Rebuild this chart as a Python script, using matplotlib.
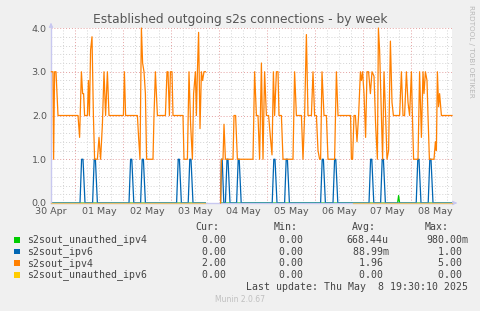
import numpy as np
import matplotlib
matplotlib.use("Agg")
import matplotlib.pyplot as plt

# --- data (x in hours since 30 Apr 00:00)
gap = np.nan

ipv4_t = [12.2, 13.0, 13.3, 13.8, 14.5, 15.5, 25.5, 26.3, 27.2, 27.8, 28.3, 28.8, 30.2, 30.7, 31.2,
          31.8, 32.5, 33.2, 33.8, 35.2, 36.0, 36.8, 37.7, 38.5, 39.3, 40.2, 41.0, 48.2, 48.7, 49.3,
          55.2, 55.8, 56.5, 57.2, 57.8, 58.5, 59.2, 59.8, 63.0, 63.5, 64.2, 65.2, 69.2, 70.0, 70.5,
          71.2, 71.7, 72.5, 73.0, 78.0, 78.5, 80.2, 81.0, 81.8, 82.7, 83.3, 84.2, 84.7, 85.2, 85.8,
          86.5, 87.2, 87.8, 88.5, 89.2, 93.0,
          96.8, 97.2, 98.0, 98.5, 99.2, 103.0, 103.5, 104.3, 105.2, 113.0, 113.8, 114.7, 115.5,
          116.3, 117.2, 118.0, 118.8, 119.7, 120.8, 121.7, 122.5, 123.2, 123.8, 124.7, 125.5, 126.0,
          127.2, 128.0, 133.0, 133.8, 134.7, 137.2, 138.0, 138.8, 139.7, 140.5, 142.2, 143.0, 143.8,
          144.7, 145.5, 146.3, 146.8, 147.5, 148.5, 149.7, 150.5, 153.8, 154.7, 155.5, 161.8, 162.2,
          162.8, 163.5, 164.2, 165.0, 165.8, 166.7, 167.2, 167.8, 168.5, 169.3, 170.0, 170.8, 171.7,
          172.5, 173.5, 174.3, 175.2, 175.7, 176.3, 177.2, 177.8, 178.5, 179.3, 180.0, 180.8, 181.7,
          182.5, 183.2, 186.3, 187.2, 188.0, 188.8, 189.7, 190.5, 191.3, 192.2, 192.7, 193.3, 195.5,
          196.3, 197.2, 198.0, 198.5, 199.2, 200.0, 200.5, 201.2, 203.5, 204.2, 204.7, 205.2, 205.8,
          206.3, 207.2, 212.5]
ipv4_v = [3, 3, 1, 3, 3, 2, 2, 1.5, 3, 2.5, 2.5, 2, 2, 2.8, 2,
          3.5, 3.8, 2, 1, 1, 1.5, 1, 1.8, 3, 2, 3, 2, 2, 3, 2,
          2, 1.5, 1, 4, 3.2, 3, 2.5, 1, 1, 2, 3, 2, 2, 3, 3,
          2, 3, 3, 2, 2, 1, 1, 3, 1.8, 1, 2.5, 3, 2, 3, 3.9,
          1.7, 3, 2.8, 3, 3, gap,
          0, 1, 1, 1.8, 1, 1, 2, 2, 1, 1, 3, 2, 2,
          1, 3.2, 1, 3, 2, 2, 1.5, 1.1, 3, 2, 3, 3, 2,
          2, 1, 1, 3, 2, 2, 1, 2, 3.85, 2, 2, 3, 2,
          2, 1.2, 1, 1, 3, 2, 2, 1, 1, 3, 2, 2, 1,
          1, 2, 2, 1.4, 2, 3, 2.8, 3, 2.5, 1.5, 3, 3, 2.5,
          3, 2.9, 1.8, 1, 4, 3.5, 2, 1, 3, 2, 1, 1.2, 3.7,
          2.3, 2, 2, 3, 2, 2, 3, 2.3, 2, 3, 2, 1, 1,
          3, 1.5, 3, 2.5, 3, 2.8, 2, 1, 1, 1.4, 1.2, 3, 2.2,
          2.5, 2, 2]

ipv6_t = [12.2, 26.5, 27.3, 28.0, 29.0, 32.8, 33.6, 34.2, 35.2, 51.0, 51.8, 52.4, 53.4,
          56.8, 57.6, 58.2, 59.2, 74.8, 75.6, 76.2, 77.2, 80.6, 81.4, 82.0, 83.0, 89.2, 93.0,
          96.8, 97.2, 97.6, 98.4, 99.2, 100.0, 100.5, 101.5, 104.8, 105.6, 106.1, 107.1,
          122.6, 123.4, 124.0, 125.0, 128.8, 129.6, 130.2, 131.2, 146.8, 147.6, 148.2, 149.2,
          153.0, 153.8, 154.4, 155.4, 171.0, 171.8, 172.4, 173.4, 176.8, 177.6, 178.2, 179.2,
          194.6, 195.4, 196.0, 197.0, 200.6, 201.4, 202.0, 203.0, 212.5]
ipv6_v = [0, 0, 1, 1, 0, 0, 1, 1, 0, 0, 1, 1, 0,
          0, 1, 1, 0, 0, 1, 1, 0, 0, 1, 1, 0, 0, gap,
          0, 1, 1, 0, 0, 1, 1, 0, 0, 1, 1, 0,
          0, 1, 1, 0, 0, 1, 1, 0, 0, 1, 1, 0,
          0, 1, 1, 0, 0, 1, 1, 0, 0, 1, 1, 0,
          0, 1, 1, 0, 0, 1, 1, 0, 0]

unauth4_t = [12.2, 89.2, 93.0, 96.8, 185.3, 185.8, 186.3, 212.5]
unauth4_v = [0, 0, gap, 0, 0, 0.17, 0, 0]

unauth6_t = [12.2, 89.2, 93.0, 163.0, 212.5]
unauth6_v = [0, 0, gap, 0, 0]

day_labels = ['30 Apr', '01 May', '02 May', '03 May', '04 May', '05 May', '06 May', '07 May', '08 May']
y_labels = ['0.0', '1.0', '2.0', '3.0', '4.0']

names = ['s2sout_unauthed_ipv4', 's2sout_ipv6', 's2sout_ipv4', 's2sout_unauthed_ipv6']
cur = [0.0, 0.0, 2.0, 0.0]
mins = [0.0, 0.0, 0.0, 0.0]
avgs = ['668.44u', ' 88.99m', '  1.96 ', '  0.00 ']
maxs = ['980.00m', '  1.00 ', '  5.00 ', '  0.00 ']
colors = ['#00cc00', '#0066b3', '#ff8000', '#ffcc00']

# --- figure
W, H = 481, 311
fig = plt.figure(figsize=(W/100, H/100), dpi=100, facecolor='#f0f0f0')
ax = fig.add_axes([51/W, 1-203/H, 401/W, 175/H])
ax.set_facecolor('white')
ax.set_xlim(12, 212.5)
ax.set_ylim(0, 4)

# grid
for h in range(18, 212, 6):
    if h % 24 == 0:
        ax.axvline(h, color='#e4a0a0', lw=0.7, ls=(0, (1, 2)), zorder=0)
    else:
        ax.axvline(h, color='#d4d4d4', lw=0.7, ls=(0, (1, 2)), zorder=0)
for k in range(1, 21):
    y = k*0.2
    if k % 5 == 0:
        ax.axhline(y, color='#e4a0a0', lw=0.7, ls=(0, (1, 2)), zorder=0)
    else:
        ax.axhline(y, color='#d4d4d4', lw=0.7, ls=(0, (1, 2)), zorder=0)

for s in ['top', 'right']:
    ax.spines[s].set_visible(False)
for s in ['left', 'bottom']:
    ax.spines[s].set_color('#c8c8f0')
    ax.spines[s].set_linewidth(1.0)
    ax.spines[s].set_zorder(1.8)

# green and blue sit under the axis line so the zero baseline stays tan
ax.plot(unauth4_t, unauth4_v, color=colors[0], lw=0.9, zorder=1.5)
ax.plot(ipv6_t, ipv6_v, color=colors[1], lw=0.9, zorder=1.6)
ax.plot(ipv4_t, ipv4_v, color=colors[2], lw=0.9, zorder=4, clip_on=False)
ax.plot(unauth6_t, unauth6_v, color='#e8c070', lw=0.9, zorder=5, clip_on=False)

ax.set_xticks([12 + 24*i for i in range(len(day_labels))])
ax.set_xticklabels(day_labels)
ax.set_yticks([0, 1, 2, 3, 4])
ax.set_yticklabels(y_labels)
ax.tick_params(length=0, labelsize=6.8, colors='#555555', pad=3)

# axis arrows
ax.annotate('', xy=(51/W, 1-20/H), xytext=(51/W, 1-28/H), xycoords='figure fraction',
            arrowprops=dict(arrowstyle='-|>', color='#c8c8f0', lw=0.8, mutation_scale=6))
ax.annotate('', xy=(460/W, 1-203/H), xytext=(452/W, 1-203/H), xycoords='figure fraction',
            arrowprops=dict(arrowstyle='-|>', color='#c8c8f0', lw=0.8, mutation_scale=6))

# title and side text
fig.text(240/W, 1-19/H, 'Established outgoing s2s connections - by week', ha='center', va='center',
         fontsize=8.8, color='#555555')
fig.text(471/W, 1-5/H, 'RRDTOOL / TOBI OETIKER', rotation=270, ha='center', va='top',
         fontsize=5.2, color='#b8b8b8')

# legend
mono = dict(family='DejaVu Sans Mono', fontsize=7.1, color='#444444', va='center')
fig.text(195/W, 1-226.7/H, 'Cur:', **mono)
fig.text(273.3/W, 1-226.7/H, 'Min:', **mono)
fig.text(351.7/W, 1-226.7/H, 'Avg:', **mono)
fig.text(425/W, 1-226.7/H, 'Max:', **mono)
rows = [240, 251.7, 263.3, 275]
for i in range(4):
    y = 1 - rows[i]/H
    fig.patches.append(plt.Rectangle((14/W, y - 2.6/H), 5.5/W, 5.5/H, transform=fig.transFigure,
                                     facecolor=colors[i], edgecolor='none'))
    fig.text(26.7/W, y, names[i], **mono)
    fig.text(189.8/W, y, '%6.2f' % cur[i], **mono)
    fig.text(267.4/W, y, '%6.2f' % mins[i], **mono)
    fig.text(346.7/W, y, avgs[i], **mono)
    fig.text(426/W, y, maxs[i], **mono)
fig.text(245.7/W, 1-287.3/H, 'Last update: Thu May  8 19:30:10 2025', **mono)
fig.text(240/W, 1-300/H, 'Munin 2.0.67', ha='center', va='center', fontsize=5.5, color='#c0c0c0')

fig.savefig('out.png', dpi=100, facecolor=fig.get_facecolor())
